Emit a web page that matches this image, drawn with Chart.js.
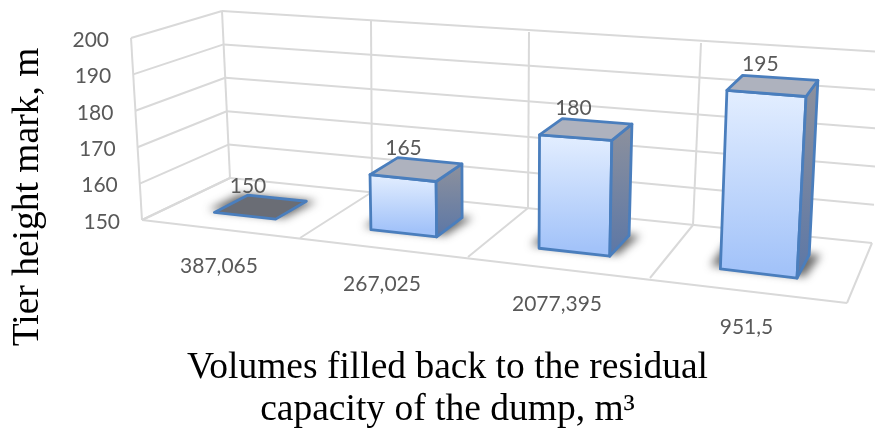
<!DOCTYPE html>
<html>
<head>
<meta charset="utf-8">
<style>html,body{margin:0;padding:0;background:#fff}#wrap{width:875px;height:428px;position:relative;overflow:hidden}</style>
<script src="https://cdn.jsdelivr.net/npm/chart.js@4"></script>
</head>
<body>
<div id="wrap"><canvas id="c" width="875" height="428"></canvas></div>
<script>
const categories = ['387,065', '267,025', '2077,395', '951,5'];
const tierHeights = [150, 165, 180, 195];
const yMin = 150, yMax = 200, yStep = 10;
const yTitle = 'Tier height mark, m';
const xTitle = ['Volumes filled back to the residual', 'capacity of the dump, m³'];

// Perspective frame: screen anchors of the 3D "room" at each category boundary.
const floorFront = [[142,220],[300,238],[468,257],[650,278],[847,303]];
const floorBack  = [[230,178],[372,192],[528,208],[693,225],[872,243]];
const ceilFront  = [[131,38],[295,52],[466,67],[654,76],[860,93]];
const ceilBack   = [[222,11],[371,20],[529,32],[701,43],[882,52]];
const BAR_Z0 = 0.3, BAR_Z1 = 0.7;

function lerp(a,b,t){return a+(b-a)*t;}
function cell(front, back, nx, nz){
  const n = front.length-1;
  const i = Math.min(n-1, Math.max(0, Math.floor(nx*n)));
  const u = nx*n-i;
  const fx=lerp(front[i][0],front[i+1][0],u), fy=lerp(front[i][1],front[i+1][1],u);
  const bx=lerp(back[i][0],back[i+1][0],u), by=lerp(back[i][1],back[i+1][1],u);
  return [lerp(fx,bx,nz), lerp(fy,by,nz)];
}
function project(nx,ny,nz){
  const a=cell(floorFront,floorBack,nx,nz), b=cell(ceilFront,ceilBack,nx,nz);
  return [lerp(a[0],b[0],ny), lerp(a[1],b[1],ny)];
}
function normX(chart,px){const s=chart.scales.x;return (px-s.left)/s.width;}
function normY(chart,py){const s=chart.scales.y;return (s.bottom-py)/s.height;}
function poly(ctx,pts){ctx.beginPath();pts.forEach((p,i)=>i?ctx.lineTo(p[0],p[1]):ctx.moveTo(p[0],p[1]));ctx.closePath();}
function seg(ctx,a,b){ctx.beginPath();ctx.moveTo(a[0],a[1]);ctx.lineTo(b[0],b[1]);ctx.stroke();}

const LABEL_FONT = '21px Lato';
const LABEL_COLOR = '#595959';
const GRID = '#d9d9d9';
const EDGE = '#4a7ebd';

const room3d = {
  id:'room3d',
  beforeDatasetsDraw(chart){
    const ctx=chart.ctx, ys=chart.scales.y, n=categories.length;
    ctx.save();
    ctx.strokeStyle=GRID; ctx.lineWidth=2;
    ys.ticks.forEach(t=>{
      const ny=normY(chart,ys.getPixelForValue(t.value));
      seg(ctx,project(0,ny,0),project(0,ny,1));
      seg(ctx,project(0,ny,1),project(1,ny,1));
    });
    seg(ctx,project(0,0,0),project(0,1,0));
    for(let i=0;i<=n;i++){
      const nx=i/n;
      seg(ctx,project(nx,0,0),project(nx,0,1));
      if(i<n) seg(ctx,project(nx,0,1),project(nx,1,1));
    }
    seg(ctx,project(0,0,0),project(1,0,0));
    ctx.fillStyle=LABEL_COLOR; ctx.font=LABEL_FONT;
    ctx.textAlign='right'; ctx.textBaseline='middle';
    ys.ticks.forEach(t=>{
      const ny=normY(chart,ys.getPixelForValue(t.value));
      const p=project(0,ny,0);
      ctx.fillText(String(t.value),p[0]-22,p[1]+2);
    });
    ctx.textAlign='center';
    const xs=chart.scales.x;
    categories.forEach((c,i)=>{
      const p=project(normX(chart,xs.getPixelForValue(i)),0,0);
      ctx.fillText(c,p[0]-2,p[1]+37);
    });
    ctx.restore();
  },
  beforeDatasetDraw(chart,args){
    const ctx=chart.ctx, meta=chart.getDatasetMeta(args.index);
    const ys=chart.scales.y;
    ctx.save();
    meta.data.forEach((el,i)=>{
      const x0=normX(chart,el.x-el.width/2), x1=normX(chart,el.x+el.width/2);
      const h=normY(chart,el.y), base=normY(chart,ys.getPixelForValue(yMin));
      const z0=BAR_Z0, z1=BAR_Z1;
      const P=(x,y,z)=>project(x,y,z);
      const fbl=P(x0,base,z0),fbr=P(x1,base,z0),bbr=P(x1,base,z1),bbl=P(x0,base,z1);
      const ftl=P(x0,h,z0),ftr=P(x1,h,z0),btr=P(x1,h,z1),btl=P(x0,h,z1);
      // soft floor shadow
      const d=(x1-x0)*0.15;
      ctx.save();
      ctx.filter='blur(4px)';
      ctx.fillStyle='rgba(45,45,45,0.7)';
      poly(ctx,[P(x0-d,base,z0+0.04),P(x1+d*0.6,base,z0+0.04),P(x1+d,base,z1+0.02),P(x0-d,base,z1+0.02)]);
      ctx.fill();
      ctx.restore();
      ctx.lineJoin='round'; ctx.lineWidth=2.8; ctx.strokeStyle=EDGE;
      if(h>base+0.001){
        let g=ctx.createLinearGradient(0,ftl[1],0,fbl[1]);
        g.addColorStop(0,'#e3eeff'); g.addColorStop(1,'#a3c3f9');
        ctx.fillStyle=g; poly(ctx,[ftl,ftr,fbr,fbl]); ctx.fill(); ctx.stroke();
        g=ctx.createLinearGradient(0,btr[1],0,fbr[1]);
        g.addColorStop(0,'#8d919d'); g.addColorStop(1,'#5c77a6');
        ctx.fillStyle=g; poly(ctx,[ftr,btr,bbr,fbr]); ctx.fill(); ctx.stroke();
        ctx.fillStyle='#aeb2be';
      } else {
        ctx.fillStyle='#6a6d75';
      }
      poly(ctx,[ftl,ftr,btr,btl]); ctx.fill(); ctx.stroke();
      const c=P((x0+x1)/2,h,(z0+z1)/2);
      ctx.fillStyle=LABEL_COLOR; ctx.font=LABEL_FONT;
      ctx.textAlign='center'; ctx.textBaseline='middle';
      ctx.fillText(String(tierHeights[i]),c[0]-13,c[1]-21);
    });
    ctx.restore();
    return false;
  }
};

new Chart(document.getElementById('c'),{
  type:'bar',
  data:{labels:categories,datasets:[{label:yTitle,data:tierHeights,barPercentage:0.4,categoryPercentage:1,backgroundColor:'#a3c3f9',borderColor:EDGE}]},
  plugins:[room3d],
  options:{
    responsive:false,animation:false,
    layout:{padding:{top:55,left:7,right:37,bottom:-3}},
    plugins:{legend:{display:false},tooltip:{enabled:false},title:{display:false}},
    scales:{
      x:{offset:true,grid:{display:false},border:{display:false},ticks:{display:false},
         title:{display:true,text:xTitle,color:'#000',font:{family:'Liberation Serif',size:37.5,lineHeight:1.12},padding:{top:0,bottom:0}}},
      y:{min:yMin,max:yMax,ticks:{display:false,stepSize:yStep},grid:{display:false},border:{display:false},
         title:{display:true,text:yTitle,color:'#000',font:{family:'Liberation Serif',size:37.5,lineHeight:1.12},padding:{top:0,bottom:0}}}
    }
  }
});
</script>
</body>
</html>
